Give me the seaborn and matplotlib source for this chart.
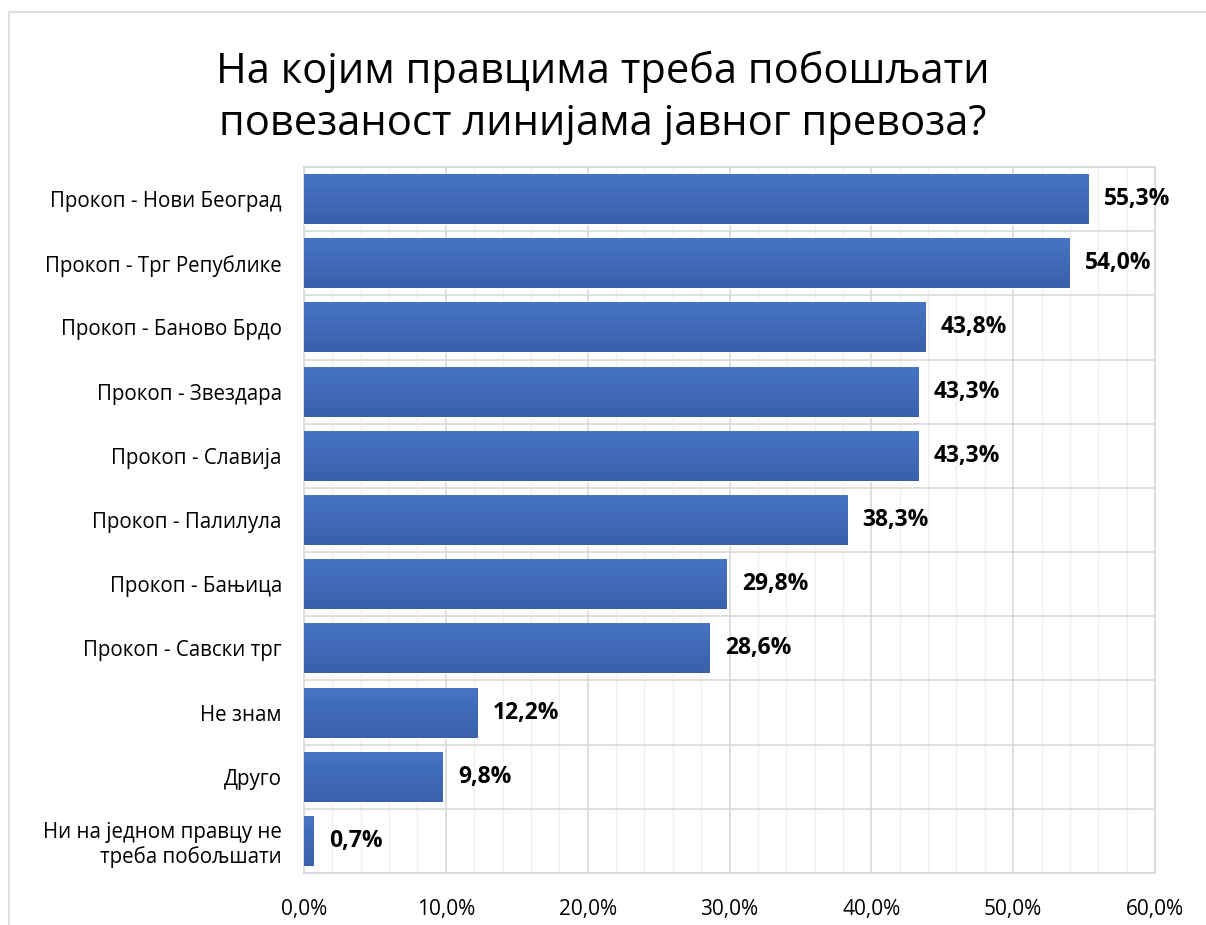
import numpy as np
import pandas as pd
import matplotlib
matplotlib.use("Agg")
import matplotlib.pyplot as plt
import seaborn as sns
from matplotlib.patches import Rectangle
from matplotlib.ticker import MultipleLocator, FuncFormatter
from matplotlib.colors import LinearSegmentedColormap

categories = [
    "Прокоп - Нови Београд",
    "Прокоп - Трг Републике",
    "Прокоп - Баново Брдо",
    "Прокоп - Звездара",
    "Прокоп - Славија",
    "Прокоп - Палилула",
    "Прокоп - Бањица",
    "Прокоп - Савски трг",
    "Не знам",
    "Друго",
    "Ни на једном правцу не\nтреба побољшати",
]
values = [55.3, 54.0, 43.8, 43.3, 43.3, 38.3, 29.8, 28.6, 12.2, 9.8, 0.7]
value_labels = ["55,3%", "54,0%", "43,8%", "43,3%", "43,3%", "38,3%",
                "29,8%", "28,6%", "12,2%", "9,8%", "0,7%"]
tick_values = [0, 10, 20, 30, 40, 50, 60]

sns.set_theme(style="white")
plt.rcParams['font.family'] = ['Open Sans', 'DejaVu Sans']

df = pd.DataFrame({"cat": categories, "val": values})

fig = plt.figure(figsize=(12.06, 9.25), dpi=100)
ax = fig.add_axes([304/1206, 1-873/925, (1155-304)/1206, (873-167)/925])

sns.barplot(data=df, x="val", y="cat", orient="h", color="#4472C4",
            width=0.78, ax=ax, zorder=3, saturation=1)

# gradient fill on bars
grad = np.linspace(0, 1, 256).reshape(-1, 1)
cmap = LinearSegmentedColormap.from_list("g", ["#4674C6", "#3A60A9"])
for p in ax.patches:
    x0, y0 = p.get_x(), p.get_y()
    w, h = p.get_width(), p.get_height()
    im = ax.imshow(grad, cmap=cmap, aspect="auto",
                   extent=[x0, x0 + w, y0 + h, y0], zorder=4,
                   interpolation="bicubic")
    im.set_clip_path(p)

ax.set_xlim(0, 60)
ax.set_ylim(len(categories) - 0.5, -0.5)

# grid
ax.xaxis.set_major_locator(MultipleLocator(10))
ax.xaxis.set_minor_locator(MultipleLocator(2))
ax.grid(which="major", axis="x", color="#D9D9D9", lw=1.2, zorder=0)
ax.grid(which="minor", axis="x", color="#EFEFEF", lw=1.0, zorder=0)
for yb in np.arange(-0.5, len(categories), 1.0):
    ax.axhline(yb, color="#D9D9D9", lw=1.2, zorder=1)

for s in ax.spines.values():
    s.set_visible(True)
    s.set_color("#D9D9D9")
    s.set_linewidth(1.2)

ax.xaxis.set_major_formatter(FuncFormatter(lambda v, _: f"{v:.1f}".replace(".", ",") + "%"))
ax.tick_params(axis="x", which="both", length=0, labelsize=15, pad=19, colors="black")
ax.tick_params(axis="y", length=0, labelsize=14.8, pad=16, colors="black")
ax.set_xlabel("")
ax.set_ylabel("")
ax.set_xticks(tick_values)

for i, (v, lab) in enumerate(zip(values, value_labels)):
    ax.annotate(lab, xy=(v, i), xytext=(11, 0), textcoords="offset points",
                ha="left", va="center", fontsize=16.5, fontweight="bold",
                color="black", zorder=5)

fig.text(0.5, 1 - 98/925, "На којим правцима треба побошљати\nповезаност линијама јавног превоза?",
         ha="center", va="center", fontsize=30, linespacing=1.32, color="black")

fig.patches.append(Rectangle((9/1206, -0.01), 1.0, 1 - 12/925 + 0.01,
                             transform=fig.transFigure, fill=False,
                             edgecolor="#D9D9D9", lw=1.2))

fig.savefig("out.png", dpi=100)
